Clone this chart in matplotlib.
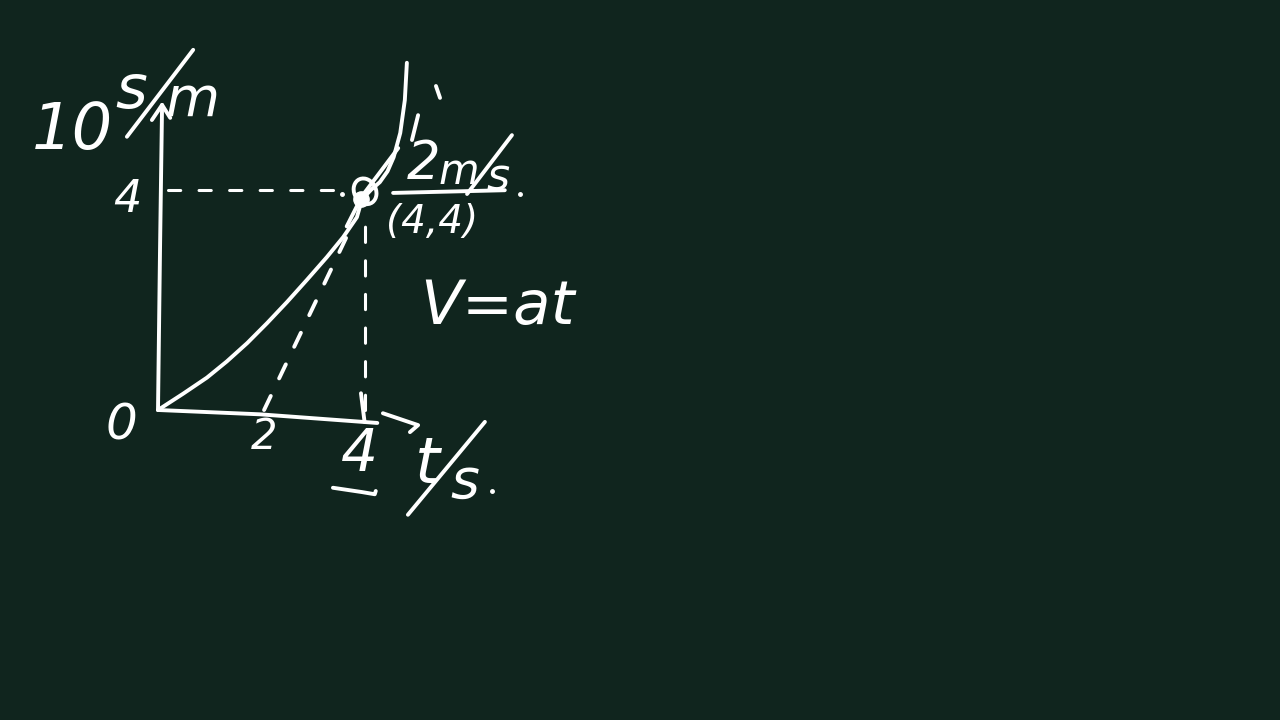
import numpy as np
import matplotlib.pyplot as plt
from matplotlib.patches import Ellipse

# hand-drawn s-t sketch, values (t in s, s in m)
curve_t = [0.0, 0.49, 0.96, 1.35, 1.75, 2.14, 2.53, 2.92, 3.31, 3.63, 3.90, 4.0,
           4.18, 4.35, 4.50, 4.62, 4.75, 4.84, 4.88]
curve_s = [0.0, 0.30, 0.60, 0.90, 1.24, 1.61, 2.00, 2.41, 2.83, 3.20, 3.57, 3.90,
           4.08, 4.22, 4.42, 4.68, 5.13, 5.74, 6.43]

tangent_dash_t = [2.08, 3.76]
tangent_dash_s = [0.0, 3.33]
tangent_solid_t = [3.70, 4.0, 4.71]
tangent_solid_s = [3.40, 3.96, 4.85]

point_t, point_s = 3.98, 3.90
hline_t = [0.2, 3.75]
hline_s = [4.07, 4.07]
vline_t = [4.06, 4.06]
vline_s = [0.0, 3.5]

yaxis_t = [0.0, 0.04, 0.08]
yaxis_s = [0.0, 3.0, 5.65]
xaxis_t = [0.0, 2.0, 4.3]
xaxis_s = [0.0, -0.08, -0.24]

BG = '#10251e'
W = 'white'

fig = plt.figure(figsize=(12.8, 7.2), dpi=100, facecolor=BG)
ax = fig.add_axes([0, 0, 1, 1])
ax.set_facecolor(BG)
ax.set_xlim(-158 / 51, (1280 - 158) / 51)
ax.set_ylim(-310 / 54, 410 / 54)
ax.axis('off')

lw = 2.8
kw = dict(color=W, lw=lw, solid_capstyle='round', dash_capstyle='round',
          solid_joinstyle='round')

# axes
ax.plot(yaxis_t, yaxis_s, **kw)
ax.plot([-0.12, 0.08, 0.24], [5.37, 5.65, 5.41], **kw)
ax.plot(xaxis_t, xaxis_s, **kw)
ax.plot([4.41, 5.10, 4.94], [-0.06, -0.28, -0.41], **kw)
ax.plot([3.98, 4.05], [0.31, -0.22], **kw)

# curve and tangent
ax.plot(curve_t, curve_s, **kw)
ax.plot(tangent_dash_t, tangent_dash_s, ls=(0, (4, 5)), **kw)
ax.plot(tangent_solid_t, tangent_solid_s, **kw)

# guide lines
ax.plot(hline_t, hline_s, ls=(0, (4, 6)), color=W, lw=2.2, dash_capstyle='round')
ax.plot(vline_t, vline_s, ls=(0, (5, 6)), color=W, lw=2.2, dash_capstyle='round')

# marked point
ax.plot(point_t, point_s, 'o', color=W, ms=11)
ax.add_patch(Ellipse((point_t + 0.08, point_s + 0.15), 0.42, 0.5, angle=35,
                     fill=False, ec=W, lw=lw))

# little strokes near the top
ax.plot([5.10, 4.98], [5.46, 5.0], **kw)
ax.plot([5.45, 5.53], [6.0, 5.78], **kw)
ax.plot([3.61, 7.10], [4.0, 4.0], 'o', color=W, ms=2.5)

txt = dict(color=W, ha='center', va='center', style='italic', family='DejaVu Sans')

# s axis label
ax.text(-1.67, 5.17, '10', fontsize=46, **txt)
ax.text(-0.52, 5.89, 's', fontsize=44, **txt)
ax.text(0.67, 5.74, 'm', fontsize=40, **txt)
ax.plot([0.69, -0.61], [6.67, 5.06], **kw)

# ticks
ax.text(-0.61, 3.89, '4', fontsize=32, **txt)
ax.text(-0.71, -0.28, '0', fontsize=36, **txt)
ax.text(2.08, -0.5, '2', fontsize=30, **txt)
ax.text(3.96, -0.83, '4', fontsize=42, **txt)
ax.plot([3.43, 4.0, 4.25, 4.27], [-1.44, -1.52, -1.56, -1.50], **kw)

# t axis label
ax.text(5.29, -1.02, 't', fontsize=46, **txt)
ax.text(6.02, -1.33, 's', fontsize=40, **txt)
ax.plot([6.41, 4.90], [-0.22, -1.94], **kw)
ax.plot([6.55], [-1.5], 'o', color=W, ms=2.5)

# slope annotation
ax.text(5.20, 4.56, '2', fontsize=38, **txt)
ax.text(5.90, 4.40, 'm', fontsize=30, **txt)
ax.text(6.66, 4.30, 's', fontsize=32, **txt)
ax.plot([6.94, 6.06], [5.09, 4.0], **kw)
ax.plot([4.61, 6.80], [4.02, 4.07], **kw)
ax.text(5.37, 3.48, '(4,4)', fontsize=28, **txt)

ax.text(6.65, 1.89, 'V=at', fontsize=44, **txt)

fig.savefig('out.png', dpi=100, facecolor=BG)
